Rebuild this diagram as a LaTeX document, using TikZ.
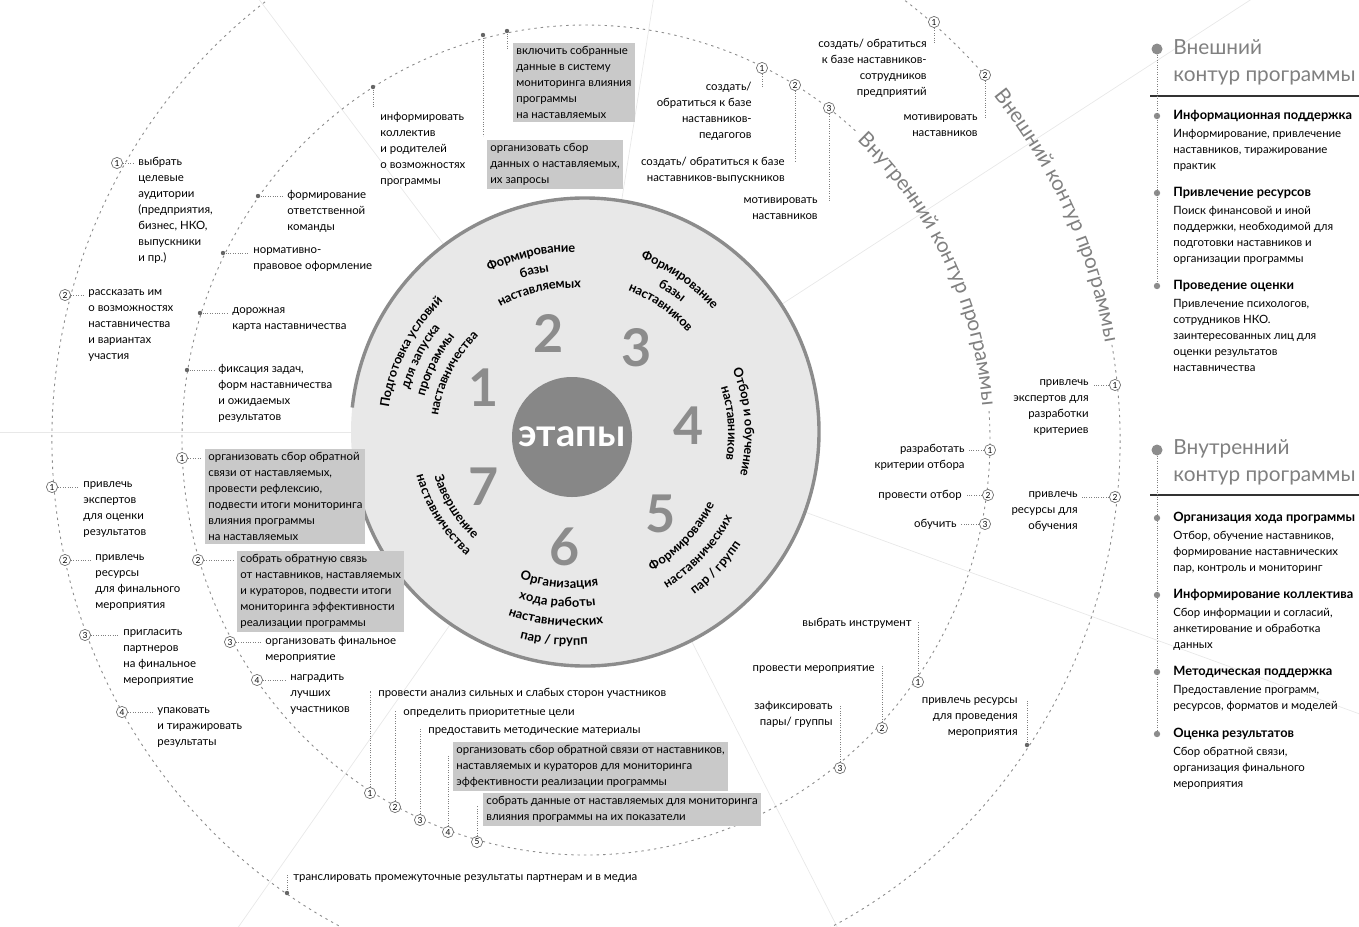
\documentclass[tikz,border=0pt]{standalone}
\usepackage{fontspec}
\setmainfont{Lato}
\usetikzlibrary{arrows.meta,decorations.text,calc}

\definecolor{hlgray}{gray}{0.79}
\definecolor{midgray}{gray}{0.50}
\definecolor{fillgray}{gray}{0.91}

\newcommand{\lblfont}{\fontsize{5.7}{8}\selectfont}
\newcommand{\headfont}{\bfseries\fontsize{6.4}{8}\selectfont}
\newcommand{\stagefont}{\bfseries\fontsize{6.4}{7}\selectfont}
\newcommand{\bigfont}{\fontsize{10.4}{13.5}\selectfont}

% one line of a stage title on an arc round (lc): angle, radius, text
\newcommand{\cwline}[3]{%
  \pgfmathsetmacro\arcA{-(#1)-50}\pgfmathsetmacro\arcB{-(#1)+50}%
  \path[decorate,decoration={text along path,text align=center,raise=-2pt,
    text={|\stagefont|#3}}] ($(lc)+(\arcA:#2)$) arc[start angle=\arcA,end angle=\arcB,radius=#2];}
\newcommand{\ccwline}[3]{%
  \pgfmathsetmacro\arcA{-(#1)+50}\pgfmathsetmacro\arcB{-(#1)-50}%
  \path[decorate,decoration={text along path,text align=center,raise=-2pt,
    text={|\stagefont|#3}}] ($(lc)+(\arcA:#2)$) arc[start angle=\arcA,end angle=\arcB,radius=#2];}

\begin{document}
\begin{tikzpicture}[x=0.5pt,y=-0.5pt,
  numc/.style={circle,draw=black!55,fill=white,line width=0.35pt,inner sep=0pt,minimum size=5.6pt,font=\fontsize{4.2}{4.2}\selectfont},
  dot/.style={circle,fill=black!60,inner sep=0pt,minimum size=2.2pt},
  sdot/.style={circle,fill=black!45,inner sep=0pt,minimum size=3.2pt},
  bdot/.style={circle,fill=black!45,inner sep=0pt,minimum size=5.5pt},
  lbl/.style={inner sep=0pt,align=left,anchor=north west,font=\lblfont,execute at begin node={\rule{0pt}{4.4pt}}},
  rlbl/.style={lbl,align=right,anchor=north east},
  hl/.style={fill=hlgray,inner sep=1.5pt},
  ttl/.style={inner sep=0pt,align=left,anchor=north west,font=\bigfont,text=midgray},
  leader/.style={black!50,line width=0.35pt,dash pattern=on 0.5pt off 0.7pt,shorten >=2pt},
  contour/.style={black!45,line width=0.45pt,dash pattern=on 1.2pt off 2pt},
  radial/.style={black!9,line width=0.35pt},
  ring/.style={black!45,line width=1.7pt,-{Stealth[length=7pt,width=6.5pt]}},
  stagenum/.style={font=\bfseries\fontsize{26}{26}\selectfont,text=black!45}]

\useasboundingbox (0,0) rectangle (1359,926);
\begin{scope}
\clip (0,0) rectangle (1359,926);

\coordinate (sc) at (585,432);
\coordinate (ci) at (586,440);
\coordinate (lc) at (572,434);

% dividers between the stages
\foreach \a in {180,-127,-81,-33,20,63,125}
  \draw[radial] ($(sc)+(\a:234)$) -- ($(sc)+(\a:1000)$);

% inner and outer contour
\draw[contour] ($(ci)+(-4:404 and 415)$) arc[start angle=-4,end angle=312,x radius=404,y radius=415];
\draw[contour] ($(ci)+(-10:534 and 548)$) arc[start angle=-10,end angle=318,x radius=534,y radius=548];
\path[decorate,decoration={text along path,text align=center,raise=-3.2pt,text color=midgray,
  text={|\bigfont|Внутренний контур программы}}]
  ($(ci)+(-56:404 and 415)$) arc[start angle=-56,end angle=4,x radius=404,y radius=415];
\path[decorate,decoration={text along path,text align=center,raise=-3.2pt,text color=midgray,
  text={|\bigfont|Внешний контур программы}}]
  ($(ci)+(-55:534 and 548)$) arc[start angle=-55,end angle=5,x radius=534,y radius=548];

% stages
\fill[fillgray] (sc) circle[radius=234];
\draw[ring] ($(sc)+(-174:234)$) arc[start angle=-174,end angle=169,radius=234];
\node[circle,fill=black!47,minimum size=60pt,inner sep=0pt,text=white,
  font=\bfseries\fontsize{19}{19}\selectfont] (etapy) at (572,437) {этапы};
\node[stagenum] (s1) at (484,388) {1};
\node[stagenum] (s2) at (549,333) {2};
\node[stagenum] (s3) at (637,348) {3};
\node[stagenum] (s4) at (689,426) {4};
\node[stagenum] (s5) at (661,514) {5};
\node[stagenum] (s6) at (565,547) {6};
\node[stagenum] (s7) at (484,487) {7};

\cwline{153}{189}{Подготовка условий}
\cwline{153}{173}{для запуска}
\cwline{153}{156}{программы}
\cwline{153}{139}{наставничества}
\cwline{103}{186}{Формирование}
\cwline{103}{168}{базы}
\cwline{103}{150}{наставляемых}
\cwline{55}{192}{Формирование}
\cwline{55}{175}{базы}
\cwline{55}{158}{наставников}
\cwline{4}{177}{Отбор и обучение}
\cwline{4}{160}{наставников}
\ccwline{-43}{155}{Формирование}
\ccwline{-43}{177}{наставнических}
\ccwline{-43}{198}{пар / групп}
\ccwline{-95}{150}{Организация}
\ccwline{-95}{169}{хода работы}
\ccwline{-95}{188}{наставнических}
\ccwline{-95}{207}{пар / групп}
\ccwline{-148}{140}{Завершение}
\ccwline{-148}{157}{наставничества}

% inner contour, top
\node[dot] (k1) at (373,87) {};
\node[lbl] (k1t) at (380,112) {информировать\\коллектив\\и родителей\\о возможностях\\программы};
\draw[leader] (k1) -- (k1 |- k1t.north);
\node[dot] (k2) at (483,35) {};
\node[lbl,hl] (k2t) at (487,140) {организовать сбор\\данных о наставляемых,\\их запросы};
\draw[leader] (k2) -- (k2 |- k2t.north);
\node[dot] (k3) at (507,31) {};
\node[lbl,hl] (k3t) at (513,43) {включить собранные\\данные в систему\\мониторинга влияния\\программы\\на наставляемых};
\draw[leader] (k3) -- ($(k3 |- k3t.north)+(0,10)$);

\node[numc] (m1) at (762,68) {1};
\node[rlbl] (m1t) at (752,82) {создать/\\обратиться к базе\\наставников-\\педагогов};
\draw[leader] (m1) -- ($(m1 |- m1t.north)+(0,8)$);
\node[numc] (m2) at (795,85) {2};
\node[rlbl] (m2t) at (785,157) {создать/ обратиться к базе\\наставников-выпускников};
\draw[leader] (m2) -- ($(m2 |- m2t.north)+(0,8)$);
\node[numc] (m3) at (829,108) {3};
\node[rlbl] (m3t) at (818,197) {мотивировать\\наставников};
\draw[leader] (m3) -- ($(m3 |- m3t.north)+(0,8)$);

% outer contour, top
\node[numc] (p1) at (934,22) {1};
\node[rlbl] (p1t) at (927,39) {создать/ обратиться\\к базе наставников-\\сотрудников\\предприятий};
\draw[leader] (p1) -- ($(p1 |- p1t.north)+(0,8)$);
\node[numc] (p2) at (985,75) {2};
\node[rlbl] (p2t) at (978,114) {мотивировать\\наставников};
\draw[leader] (p2) -- ($(p2 |- p2t.north)+(0,8)$);

% inner contour, right
\node[numc] (r1) at (990,450) {1};
\node[rlbl] (r1t) at (965,444) {разработать\\критерии отбора};
\draw[leader] (r1) -- (r1 -| r1t.east);
\node[numc] (r2) at (988,495) {2};
\node[rlbl] (r2t) at (962,489) {провести отбор};
\draw[leader] (r2) -- (r2 -| r2t.east);
\node[numc] (r3) at (985,524) {3};
\node[rlbl] (r3t) at (957,518) {обучить};
\draw[leader] (r3) -- (r3 -| r3t.east);

% outer contour, right
\node[numc] (q1) at (1115,385) {1};
\node[rlbl] (q1t) at (1089,379) {привлечь\\экспертов для\\разработки\\критериев};
\draw[leader] (q1) -- (q1 -| q1t.east);
\node[numc] (q2) at (1115,497) {2};
\node[rlbl] (q2t) at (1078,491) {привлечь\\ресурсы для\\обучения};
\draw[leader] (q2) -- (q2 -| q2t.east);

% inner contour, lower right
\node[numc] (v1) at (918,682) {1};
\node[rlbl] (v1t) at (912,617) {выбрать инструмент};
\draw[leader] (v1) -- (v1 |- v1t.north);
\node[numc] (v2) at (882,728) {2};
\node[rlbl] (v2t) at (875,662) {провести мероприятие};
\draw[leader] (v2) -- (v2 |- v2t.north);
\node[numc] (v3) at (840,768) {3};
\node[rlbl] (v3t) at (833,701) {зафиксировать\\пары/ группы};
\draw[leader] (v3) -- (v3 |- v3t.north);

\node[dot] (w1) at (1027,745) {};
\node[rlbl] (w1t) at (1018,697) {привлечь ресурсы\\для проведения\\мероприятия};
\draw[leader] (w1) -- (w1 |- w1t.north);

% inner contour, bottom
\node[numc] (b1) at (370,793) {1};
\node[lbl] (b1t) at (378,687) {провести анализ сильных и слабых сторон участников};
\draw[leader] (b1) -- (b1 |- b1t.north);
\node[numc] (b2) at (395,807) {2};
\node[lbl] (b2t) at (403,706) {определить приоритетные цели};
\draw[leader] (b2) -- (b2 |- b2t.north);
\node[numc] (b3) at (420,820) {3};
\node[lbl] (b3t) at (428,724) {предоставить методические материалы};
\draw[leader] (b3) -- (b3 |- b3t.north);
\node[numc] (b4) at (448,832) {4};
\node[lbl,hl] (b4t) at (453,742) {организовать сбор обратной связи от наставников,\\наставляемых и кураторов для мониторинга\\эффективности реализации программы};
\draw[leader] (b4) -- ($(b4 |- b4t.north)+(0,10)$);
\node[numc] (b5) at (477,842) {5};
\node[lbl,hl] (b5t) at (483,793) {собрать данные от наставляемых для мониторинга\\влияния программы на их показатели};
\draw[leader] (b5) -- ($(b5 |- b5t.north)+(0,8)$);

\node[dot] (w2) at (287,893) {};
\node[lbl] (w2t) at (293,871) {транслировать промежуточные результаты партнерам и в медиа};
\draw[leader] (w2) -- (w2 |- w2t.north);

% inner contour, left
\node[numc] (g1) at (182,458) {1};
\node[lbl,hl] (g1t) at (205,449) {организовать сбор обратной\\связи от наставляемых,\\провести рефлексию,\\подвести итоги мониторинга\\влияния программы\\на наставляемых};
\draw[leader] (g1) -- (g1 -| g1t.west);
\node[numc] (g2) at (198,560) {2};
\node[lbl,hl] (g2t) at (237,551) {собрать обратную связь\\от наставников, наставляемых\\и кураторов, подвести итоги\\мониторинга эффективности\\реализации программы};
\draw[leader] (g2) -- (g2 -| g2t.west);
\node[numc] (g3) at (230,642) {3};
\node[lbl] (g3t) at (265,636) {организовать финальное\\мероприятие};
\draw[leader] (g3) -- (g3 -| g3t.west);
\node[numc] (g4) at (257,680) {4};
\node[lbl] (g4t) at (290,674) {наградить\\лучших\\участников};
\draw[leader] (g4) -- (g4 -| g4t.west);

\node[dot] (f1) at (258,196) {};
\node[lbl] (f1t) at (287,190) {формирование\\ответственной\\команды};
\draw[leader] (f1) -- (f1 -| f1t.west);
\node[dot] (f2) at (223,253) {};
\node[lbl] (f2t) at (253,247) {нормативно-\\правовое оформление};
\draw[leader] (f2) -- (f2 -| f2t.west);
\node[dot] (f3) at (200,313) {};
\node[lbl] (f3t) at (232,307) {дорожная\\карта наставничества};
\draw[leader] (f3) -- (f3 -| f3t.west);
\node[dot] (f4) at (187,370) {};
\node[lbl] (f4t) at (218,364) {фиксация задач,\\форм наставничества\\и ожидаемых\\результатов};
\draw[leader] (f4) -- (f4 -| f4t.west);

% outer contour, left
\node[numc] (h1) at (117,163) {1};
\node[lbl] (h1t) at (138,157) {выбрать\\целевые\\аудитории\\(предприятия,\\бизнес, НКО,\\выпускники\\и пр.)};
\draw[leader] (h1) -- (h1 -| h1t.west);
\node[numc] (h2) at (65,295) {2};
\node[lbl] (h2t) at (88,289) {рассказать им\\о возможностях\\наставничества\\и вариантах\\участия};
\draw[leader] (h2) -- (h2 -| h2t.west);
\node[numc] (h3) at (52,487) {1};
\node[lbl] (h3t) at (83,481) {привлечь\\экспертов\\для оценки\\результатов};
\draw[leader] (h3) -- (h3 -| h3t.west);
\node[numc] (h4) at (65,560) {2};
\node[lbl] (h4t) at (95,554) {привлечь\\ресурсы\\для финального\\мероприятия};
\draw[leader] (h4) -- (h4 -| h4t.west);
\node[numc] (h5) at (85,635) {3};
\node[lbl] (h5t) at (123,629) {пригласить\\партнеров\\на финальное\\мероприятие};
\draw[leader] (h5) -- (h5 -| h5t.west);
\node[numc] (h6) at (122,712) {4};
\node[lbl] (h6t) at (157,707) {упаковать\\и тиражировать\\результаты};
\draw[leader] (h6) -- (h6 -| h6t.west);

% legend
\node[bdot] (ext) at (1157,49) {};
\node[ttl] (extt) at (1173,39) {Внешний\\контур программы};
\coordinate (ra) at (1150,96);
\coordinate (rb) at (1359,96);
\draw[line width=1.2pt,black!80] (ra) -- (rb);
\node[sdot] (e1) at (1157,116) {};
\node[lbl] (e1t) at (1173,110) {{\headfont Информационная поддержка}\\[1pt]Информирование, привлечение\\наставников, тиражирование\\практик};
\node[sdot] (e2) at (1157,193) {};
\node[lbl] (e2t) at (1173,187) {{\headfont Привлечение ресурсов}\\[1pt]Поиск финансовой и иной\\поддержки, необходимой для\\подготовки наставников и\\организации программы};
\node[sdot] (e3) at (1157,286) {};
\node[lbl] (e3t) at (1173,280) {{\headfont Проведение оценки}\\[1pt]Привлечение психологов,\\сотрудников НКО.\\заинтересованных лиц для\\оценки результатов\\наставничества};
\draw[leader,shorten >=0pt] (ext) -- (e3);

\node[bdot] (int) at (1157,450) {};
\node[ttl] (intt) at (1173,439) {Внутренний\\контур программы};
\coordinate (rc) at (1150,495);
\coordinate (rd) at (1359,495);
\draw[line width=1.2pt,black!80] (rc) -- (rd);
\node[sdot] (i1) at (1157,518) {};
\node[lbl] (i1t) at (1173,512) {{\headfont Организация хода программы}\\[1pt]Отбор, обучение наставников,\\формирование наставнических\\пар, контроль и мониторинг};
\node[sdot] (i2) at (1157,595) {};
\node[lbl] (i2t) at (1173,589) {{\headfont Информирование коллектива}\\[1pt]Сбор информации и согласий,\\анкетирование и обработка\\данных};
\node[sdot] (i3) at (1157,672) {};
\node[lbl] (i3t) at (1173,666) {{\headfont Методическая поддержка}\\[1pt]Предоставление программ,\\ресурсов, форматов и моделей};
\node[sdot] (i4) at (1157,734) {};
\node[lbl] (i4t) at (1173,728) {{\headfont Оценка результатов}\\[1pt]Сбор обратной связи,\\организация финального\\мероприятия};
\draw[leader,shorten >=0pt] (int) -- (i4);
\end{scope}
\end{tikzpicture}
\end{document}
